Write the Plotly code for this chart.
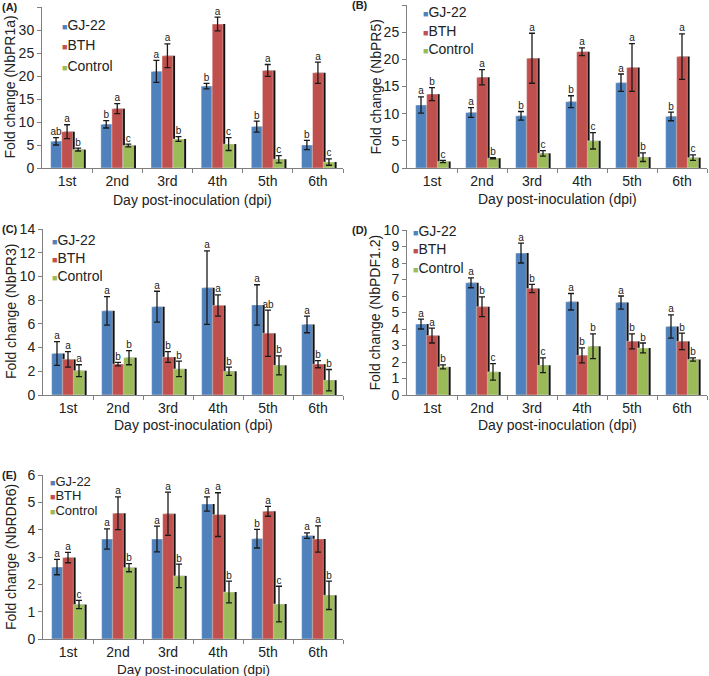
import plotly.graph_objects as go

days = ["1st", "2nd", "3rd", "4th", "5th", "6th"]
groups = ["GJ-22", "BTH", "Control"]

# (A) NbPR1a : rows = GJ-22, BTH, Control
pr1a_mean = [[5.8, 9.5, 21.0, 17.8, 9.0, 5.0],
             [7.9, 12.9, 24.4, 31.3, 21.2, 20.7],
             [4.0, 4.9, 6.3, 5.2, 1.9, 1.3]]
pr1a_err = [[0.8, 0.8, 2.4, 0.6, 1.2, 1.0],
            [1.5, 1.1, 2.6, 1.5, 1.3, 2.3],
            [0.3, 0.3, 0.5, 1.4, 0.8, 0.7]]
pr1a_sig = [["ab", "b", "a", "b", "b", "b"],
            ["a", "a", "a", "a", "a", "a"],
            ["b", "c", "b", "c", "c", "c"]]

# (B) NbPR5
pr5_mean = [[11.6, 10.2, 9.6, 12.2, 15.7, 9.5],
            [13.6, 16.7, 20.2, 21.4, 18.5, 20.5],
            [1.2, 1.8, 2.7, 5.0, 2.0, 1.9]]
pr5_err = [[1.5, 0.9, 0.8, 1.1, 1.6, 0.8],
           [1.2, 1.4, 4.6, 0.7, 4.4, 4.2],
           [0.2, 0.1, 0.5, 1.5, 0.8, 0.5]]
pr5_sig = [["a", "a", "b", "b", "a", "b"],
           ["b", "a", "a", "a", "a", "a"],
           ["c", "b", "c", "c", "b", "c"]]

# (C) NbPR3
pr3_mean = [[3.5, 7.1, 7.45, 9.05, 7.6, 5.95],
            [3.0, 2.6, 3.2, 7.55, 5.2, 2.6],
            [2.05, 3.15, 2.2, 2.0, 2.5, 1.25]]
pr3_err = [[1.0, 1.2, 1.3, 3.1, 1.7, 0.7],
           [0.65, 0.15, 0.45, 0.9, 1.95, 0.3],
           [0.5, 0.6, 0.65, 0.35, 0.8, 0.9]]
pr3_sig = [["a", "a", "a", "a", "a", "a"],
           ["a", "b", "b", "a", "ab", "b"],
           ["a", "b", "b", "b", "b", "b"]]

# (D) NbPDF1.2
pdf_mean = [[4.3, 6.8, 8.6, 5.65, 5.6, 4.15],
            [3.6, 5.35, 6.45, 2.4, 3.25, 3.25],
            [1.7, 1.4, 1.8, 2.95, 2.85, 2.15]]
pdf_err = [[0.3, 0.3, 0.6, 0.5, 0.4, 0.7],
           [0.45, 0.6, 0.25, 0.45, 0.45, 0.5],
           [0.12, 0.5, 0.45, 0.75, 0.3, 0.1]]
pdf_sig = [["a", "a", "a", "a", "a", "a"],
           ["a", "b", "b", "b", "b", "b"],
           ["b", "c", "c", "b", "b", "b"]]

# (E) NbRDR6
rdr_mean = [[2.63, 3.66, 3.66, 4.94, 3.67, 3.78],
            [2.98, 4.6, 4.58, 4.55, 4.67, 3.66],
            [1.26, 2.61, 2.31, 1.72, 1.28, 1.6]]
rdr_err = [[0.28, 0.37, 0.47, 0.26, 0.34, 0.1],
           [0.19, 0.6, 0.79, 0.8, 0.18, 0.48],
           [0.15, 0.15, 0.43, 0.4, 0.65, 0.52]]
rdr_sig = [["a", "a", "a", "a", "b", "a"],
           ["a", "a", "a", "a", "a", "a"],
           ["c", "b", "b", "b", "c", "b"]]

colors = ["#4F81BD", "#C0504D", "#9BBB59"]
FONT = "Liberation Sans, Arial, sans-serif"
W, H = 709, 676

# panel: data, y title, y max, dtick, label, plot box in px (left, right, top, bottom),
# legend (x, y0, step, size), x-title (gap below the axis, size)
panels = [
    (pr1a_mean, pr1a_err, pr1a_sig, "Fold change (NbPR1a)", 35, 5, "(A)", (42, 343, 7, 168), (60, 25, 20.5, 14), (32, 14)),
    (pr5_mean, pr5_err, pr5_sig, "Fold change (NbPR5)", 30, 5, "(B)", (407, 707, 5, 168), (421, 12, 18.5, 14), (31, 14)),
    (pr3_mean, pr3_err, pr3_sig, "Fold change (NbPR3)", 14, 2, "(C)", (43, 343, 229, 395), (50, 240, 18, 14), (30, 14)),
    (pdf_mean, pdf_err, pdf_sig, "Fold change (NbPDF1.2)", 10, 1, "(D)", (407, 707, 230, 395), (411, 231, 18.5, 14), (30, 14)),
    (rdr_mean, rdr_err, rdr_sig, "Fold change (NbRDR6)", 6, 1, "(E)", (43, 343, 475, 639), (48, 481, 14.5, 13), (30, 13.5)),
]

bw = 0.215
offs = [-0.3275, -0.1075, 0.1125]
x = list(range(len(days)))

fig = go.Figure()
annots = []
layout = {}

for p, (mean, err, sig, ytitle, ymax, dt, lab, box, leg, xt) in enumerate(panels):
    n = "" if p == 0 else str(p + 1)
    xa, ya = "x" + n, "y" + n
    # shadows behind the bars
    for g in range(3):
        fig.add_trace(go.Bar(x=x, y=mean[g], offset=offs[g] + 0.045, width=bw,
                             marker=dict(color="#111111", line_width=0),
                             xaxis=xa, yaxis=ya, showlegend=False, hoverinfo="skip"))
    for g in range(3):
        fig.add_trace(go.Bar(x=x, y=mean[g], offset=offs[g], width=bw, name=groups[g],
                             marker=dict(color=colors[g], line=dict(color="white", width=0.4)),
                             error_y=dict(type="data", array=err[g], color="#1a1a1a",
                                          thickness=1.3, width=3),
                             xaxis=xa, yaxis=ya, showlegend=False))
        fig.add_trace(go.Scatter(x=[i + offs[g] + bw / 2 for i in x],
                                 y=[m + e for m, e in zip(mean[g], err[g])],
                                 text=sig[g], mode="text", textposition="top center",
                                 textfont=dict(size=10, color="#222222", family=FONT),
                                 xaxis=xa, yaxis=ya, showlegend=False, hoverinfo="skip",
                                 cliponaxis=False))

    l, r, t, b = box
    layout["xaxis" + n] = dict(
        domain=[l / W, r / W], anchor=ya, range=[-0.5, 5.5], automargin=False,
        tickmode="array", tickvals=x, ticktext=days, ticks="",
        minor=dict(tickmode="array", tickvals=[i + 0.5 for i in x], ticks="outside",
                   ticklen=4, tickcolor="#7f7f7f", showgrid=False),
        showline=True, linecolor="#7f7f7f", linewidth=1, showgrid=False, zeroline=False,
        tickfont=dict(size=14, color="#222222"),
    )
    layout["yaxis" + n] = dict(
        domain=[1 - b / H, 1 - t / H], anchor=xa, range=[0, ymax], dtick=dt, automargin=False,
        ticks="outside", ticklen=4, tickcolor="#7f7f7f",
        showline=True, linecolor="#7f7f7f", linewidth=1, showgrid=False, zeroline=False,
        tickfont=dict(size=14, color="#222222"),
    )
    # axis titles as text placed where the reference puts them
    annots.append(dict(text=ytitle, textangle=-90, x=(l - 32) / W, y=1 - (t + b) / 2 / H,
                       xref="paper", yref="paper", xanchor="center", yanchor="middle",
                       showarrow=False, font=dict(size=14, color="#222222")))
    xgap, xfs = xt
    annots.append(dict(text="Day post-inoculation (dpi)", x=(l + r) / 2 / W, y=1 - (b + xgap) / H,
                       xref="paper", yref="paper", xanchor="center", yanchor="middle",
                       showarrow=False, font=dict(size=xfs, color="#222222")))
    annots.append(dict(text="<b>" + lab + "</b>", x=0 if l < 300 else 350 / W, y=1 - t / H,
                       xref="paper", yref="paper", xanchor="left", yanchor="middle",
                       showarrow=False, font=dict(size=11, color="#222222")))
    lx, ly, step, fs = leg
    for g in range(3):
        annots.append(dict(
            text="<span style='color:%s;font-size:9px'>■</span>%s" % (colors[g], groups[g]),
            x=lx / W, y=1 - (ly + g * step) / H, xref="paper", yref="paper",
            xanchor="left", yanchor="middle", showarrow=False,
            font=dict(size=fs, color="#222222")))

fig.update_layout(
    width=W, height=H, margin=dict(l=0, r=0, t=0, b=0),
    barmode="overlay", plot_bgcolor="white", paper_bgcolor="white",
    font=dict(family=FONT, color="#222222"),
    annotations=annots, **layout,
)

# the page body has a default 8px margin; drop it so the figure fills the window
fig.write_html("out.html", config={"displayModeBar": False},
               post_script="document.body.style.margin='0';")
